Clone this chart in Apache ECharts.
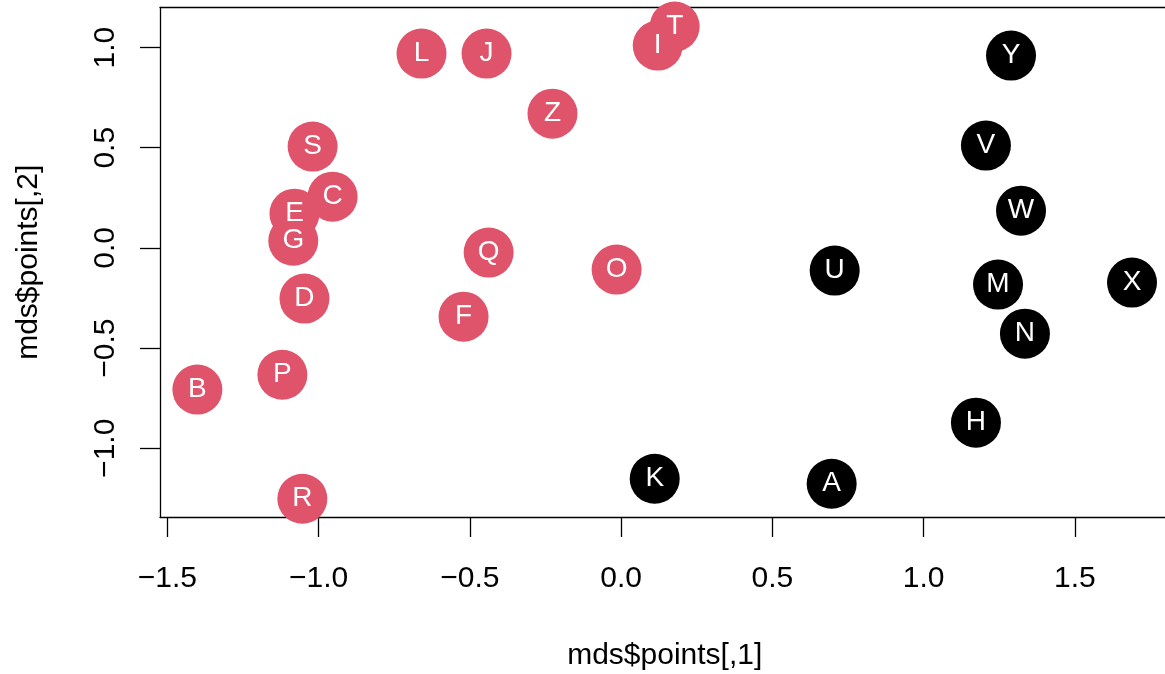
<!DOCTYPE html>
<html>
<head>
<meta charset="utf-8">
<script src="https://cdn.jsdelivr.net/npm/echarts@6/dist/echarts.min.js"></script>
<style>
html,body{margin:0;padding:0;background:#fff;overflow:hidden;}
#chart{width:1165px;height:674px;}
</style>
</head>
<body>
<div id="chart"></div>
<script>
// ---- data ----
const labels = ['A','B','C','D','E','F','G','H','I','J','K','L','M','N','O','P','Q','R','S','T','U','V','W','X','Y','Z'];
const xValues = [0.696,-1.401,-0.954,-1.047,-1.080,-0.521,-1.084,1.173,0.121,-0.445,0.111,-0.660,1.246,1.335,-0.015,-1.120,-0.438,-1.054,-1.020,0.177,0.706,1.206,1.322,1.689,1.289,-0.227];
const yValues = [-1.177,-0.707,0.256,-0.253,0.171,-0.343,0.036,-0.872,1.010,0.970,-1.152,0.970,-0.183,-0.428,-0.108,-0.633,-0.023,-1.252,0.506,1.105,-0.113,0.511,0.186,-0.173,0.960,0.670];
const groups = [1,2,2,2,2,2,2,1,2,2,1,2,1,1,2,2,2,2,2,2,1,1,1,1,1,2];
const xTicks = [-1.5,-1.0,-0.5,0.0,0.5,1.0,1.5];
const yTicks = [-1.0,-0.5,0.0,0.5,1.0];
const xTitle = 'mds$points[,1]';
const yTitle = 'mds$points[,2]';

const groupColors = {1:'#000000', 2:'#DF536B'};
const FONT = '"Liberation Sans", Arial, sans-serif';
const XMIN = -1.5246, XMAX = 1.8126;

const fmt = v => (v < 0 ? '\u2212' : '') + Math.abs(v).toFixed(1);

const data = labels.map((l, i) => ({
  name: l,
  value: [xValues[i], yValues[i]],
  itemStyle: {color: groupColors[groups[i]], opacity: 1}
}));

const lineStyle = {color: '#000', width: 1.3};

const chart = echarts.init(document.getElementById('chart'), null, {renderer: 'canvas'});
chart.setOption({
  animation: false,
  backgroundColor: '#ffffff',
  grid: {
    left: 160, top: 7.5, right: -4.4, bottom: 157,
    outerBoundsMode: 'none', containLabel: false, show: false
  },
  xAxis: [{
    type: 'value', min: XMIN, max: XMAX, position: 'bottom',
    splitLine: {show: false},
    axisLine: {show: true, onZero: false, lineStyle: lineStyle},
    axisTick: {show: true, length: 20, inside: false, customValues: xTicks, lineStyle: lineStyle},
    axisLabel: {show: true, customValues: xTicks, formatter: fmt, margin: 47, color: '#000', fontSize: 30, fontFamily: FONT},
    name: xTitle, nameLocation: 'middle', nameGap: 124,
    nameTextStyle: {color: '#000', fontSize: 30, fontFamily: FONT}
  }, {
    type: 'value', min: XMIN, max: XMAX, position: 'top',
    splitLine: {show: false},
    axisLine: {show: true, onZero: false, lineStyle: lineStyle},
    axisTick: {show: false},
    axisLabel: {show: false}
  }],
  yAxis: {
    type: 'value', min: -1.343, max: 1.200,
    splitLine: {show: false},
    axisLine: {show: true, onZero: false, lineStyle: lineStyle},
    axisTick: {show: true, length: 20, inside: false, customValues: yTicks, lineStyle: lineStyle},
    axisLabel: {show: true, customValues: yTicks, formatter: fmt, rotate: 90, margin: 39, color: '#000', fontSize: 30, fontFamily: FONT},
    name: yTitle, nameLocation: 'middle', nameGap: 116,
    nameTextStyle: {color: '#000', fontSize: 30, fontFamily: FONT}
  },
  series: [{
    type: 'scatter',
    xAxisIndex: 0,
    symbol: 'circle',
    symbolSize: 50,
    data: data,
    itemStyle: {opacity: 1},
    label: {
      show: true, position: 'inside', formatter: '{b}',
      color: '#fff', fontSize: 28, fontFamily: FONT
    },
    emphasis: {disabled: true}
  }]
});
</script>
</body>
</html>
